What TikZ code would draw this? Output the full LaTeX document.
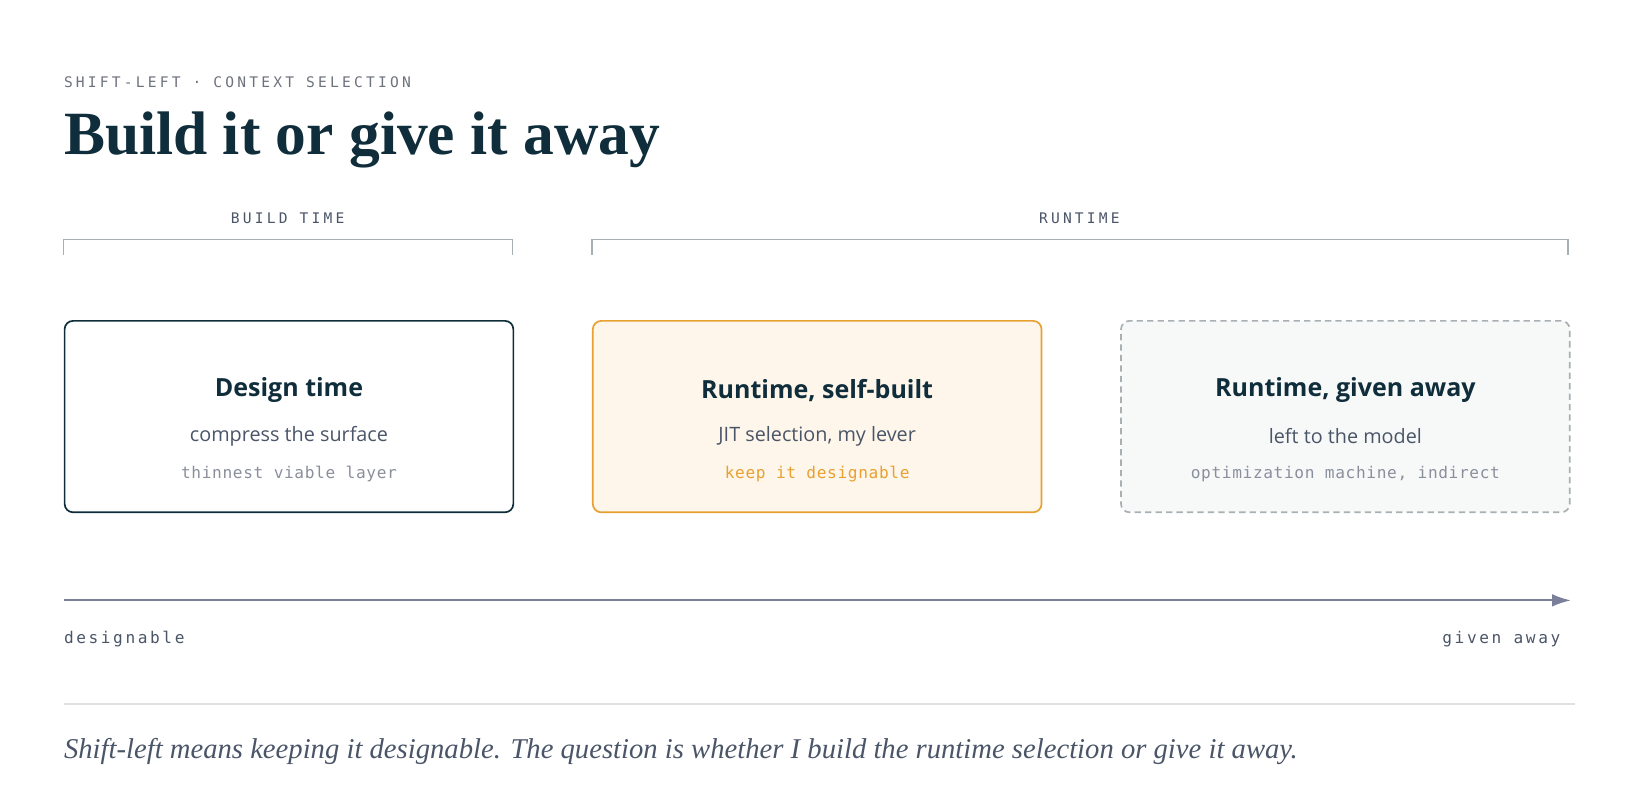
\documentclass[tikz,border=0pt]{standalone}
\usepackage{fontspec}
\setmainfont{Liberation Serif}
\setsansfont{Open Sans}
\setmonofont[LetterSpace=4]{DejaVu Sans Mono}
\newfontfamily\spacedmono[LetterSpace=22]{DejaVu Sans Mono}
\newfontfamily\widemono[LetterSpace=16]{DejaVu Sans Mono}
\usetikzlibrary{positioning,calc,arrows.meta}
\definecolor{ink}{HTML}{0F2D3A}
\definecolor{slate}{HTML}{4A5568}
\definecolor{muted}{HTML}{8A8F9C}
\definecolor{rail}{HTML}{A9B0B4}
\definecolor{amber}{HTML}{E8A030}
\definecolor{cream}{HTML}{FEF6EA}
\definecolor{mist}{HTML}{F7F8F8}
\definecolor{axis}{HTML}{7A7F9A}
\tikzstyle{card}=[rectangle, rounded corners=8bp, minimum width=429bp, minimum height=183bp, line width=1.6bp, anchor=north west, inner sep=0pt]
\tikzstyle{head}=[font=\sffamily\bfseries\fontsize{24}{28}\selectfont, text=ink]
\tikzstyle{sub}=[font=\sffamily\fontsize{19}{22}\selectfont, text=slate]
\tikzstyle{note}=[font=\ttfamily\fontsize{15.5}{18}\selectfont, text=muted]
\tikzstyle{tag}=[font=\spacedmono\fontsize{14}{16}\selectfont, text=muted!80!black]
\tikzstyle{end}=[font=\widemono\fontsize{15.5}{18}\selectfont, text=slate, inner sep=0pt]
\newcommand{\cardtext}[5]
{
  \node[head] (#1h) at ($(#1.north)+(0,67)$) {#2};
  \node[sub] (#1s) at ($(#1.north)+(0,111)$) {#3};
  \node[note,#5] (#1n) at ($(#1.north)+(0,147)$) {#4};
}
\begin{document}
\begin{tikzpicture}[x=1bp,y=-1bp]
	\useasboundingbox (0,0) rectangle (1568,766);

	\node[tag, anchor=base west, inner sep=0pt] (kicker) at (61,84) {SHIFT-LEFT · CONTEXT SELECTION};
	\node[anchor=base west, inner sep=0pt, text=ink, font=\bfseries\fontsize{59}{62}\selectfont] (title) at (61,148) {Build it or give it away};

	% phase brackets
	\node[tag, text=slate] (build) at (275,209) {BUILD TIME};
	\node[tag, text=slate] (run) at (1032,209) {RUNTIME};
	\draw[rail, line width=1.3bp] (61,244) -- (61,229) -- (490,229) -- (490,244);
	\draw[rail, line width=1.3bp] (566,244) -- (566,229) -- (1499,229) -- (1499,244);

	\node[card, draw=ink, fill=white] (design) at (61,306) {};
	\node[card, draw=amber, fill=cream] (self) at (566,306) {};
	\node[card, draw=rail, fill=mist, dashed, dash pattern=on 6bp off 4bp] (away) at (1071,306) {};
	\cardtext{design}{Design time}{compress the surface}{thinnest viable layer}{}
	\cardtext{self}{Runtime, self-built}{JIT selection, my lever}{keep it designable}{text=amber}
	\cardtext{away}{Runtime, given away}{left to the model}{optimization machine, indirect}{}

	% scale
	\coordinate (from) at (61,574);
	\coordinate (to) at (1502,574);
	\draw[axis, line width=2bp, -{Latex[length=18bp,width=12bp]}] (from) -- (to);
	\node[end, anchor=base west] (lo) at (61,615) {designable};
	\node[end, anchor=base east] (hi) at (1492,615) {given away};

	\draw[black!12, line width=1.2bp] (61,673) -- (1506,673);
	\node[anchor=base west, inner sep=0pt, text=slate, font=\itshape\fontsize{27.5}{30}\selectfont] (caption) at (61,725) {Shift-left means keeping it designable. The question is whether I build the runtime selection or give it away.};
\end{tikzpicture}
\end{document}
